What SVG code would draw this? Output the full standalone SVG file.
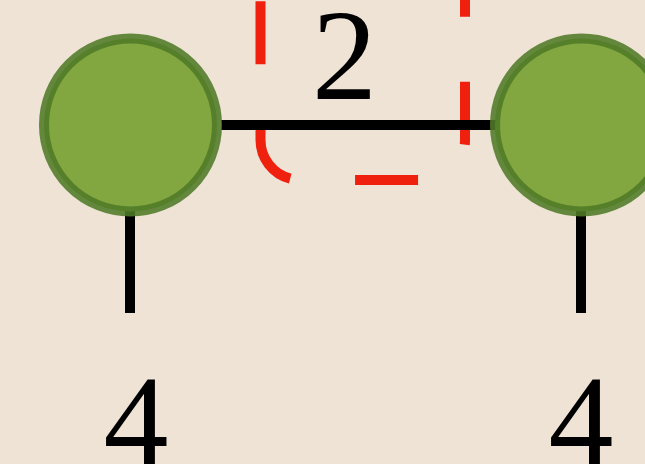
<svg xmlns="http://www.w3.org/2000/svg" width="645" height="464" viewBox="0 0 645 464">
<style>
.edge{stroke:#000;stroke-width:10;fill:none}
.node{fill:#82A640;stroke:#507A27;stroke-opacity:0.88;stroke-width:10}
.lbl{font-family:"Liberation Serif","Times New Roman",serif;font-size:130px;fill:#000;text-anchor:middle}
.group{fill:none;stroke:#F0200E;stroke-width:10;stroke-dasharray:63 65}
</style>
<rect width="645" height="464" fill="#EFE3D5"/>
<g id="highlight">
<path class="group" d="M260.5 -60 V140 A40 40 0 0 0 300.5 180 H425 A40 40 0 0 0 465 140 V-60" style="stroke-dashoffset:66.7"/>
</g>
<g id="connectors">
<line class="edge" x1="221" y1="125" x2="500" y2="125"/>
<line class="edge" x1="130" y1="210" x2="130" y2="313"/>
<line class="edge" x1="581" y1="210" x2="581" y2="313"/>
</g>
<g id="nodeA">
<circle class="node" cx="130.5" cy="125" r="86.5"/>
</g>
<g id="nodeB">
<circle class="node" cx="581.5" cy="125" r="86.5"/>
</g>
<g id="labels">
<text class="lbl" x="344.5" y="99">2</text>
<text class="lbl" x="136" y="465">4</text>
<text class="lbl" x="581" y="465">4</text>
</g>
</svg>
